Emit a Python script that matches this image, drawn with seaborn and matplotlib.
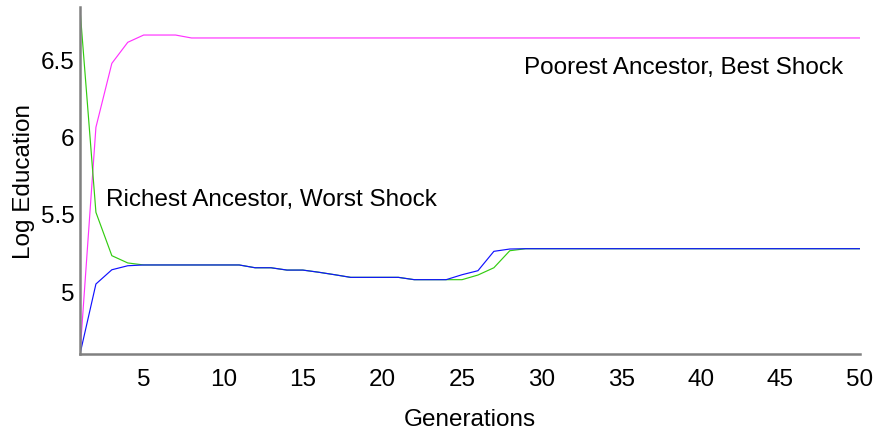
import matplotlib
matplotlib.use("Agg")
import matplotlib.pyplot as plt
import pandas as pd
import seaborn as sns

# Log education paths across generations
generations = list(range(1, 51))

poorest_best = [4.595, 6.059, 6.472, 6.608, 6.655, 6.655, 6.655, 6.636, 6.636, 6.636,
                6.636, 6.636, 6.636, 6.636, 6.636, 6.636, 6.636, 6.636, 6.636, 6.636,
                6.636, 6.636, 6.636, 6.636, 6.636, 6.636, 6.636, 6.636, 6.636, 6.636,
                6.636, 6.636, 6.636, 6.636, 6.636, 6.636, 6.636, 6.636, 6.636, 6.636,
                6.636, 6.636, 6.636, 6.636, 6.636, 6.636, 6.636, 6.636, 6.636, 6.636]

richest_worst = [6.823, 5.510, 5.230, 5.183, 5.170, 5.170, 5.170, 5.170, 5.170, 5.170,
                 5.170, 5.152, 5.152, 5.137, 5.137, 5.123, 5.107, 5.090, 5.090, 5.090,
                 5.090, 5.075, 5.075, 5.075, 5.075, 5.105, 5.152, 5.262, 5.275, 5.275,
                 5.275, 5.275, 5.275, 5.275, 5.275, 5.275, 5.275, 5.275, 5.275, 5.275,
                 5.275, 5.275, 5.275, 5.275, 5.275, 5.275, 5.275, 5.275, 5.275, 5.275]

poorest_path = [4.595, 5.047, 5.139, 5.165, 5.170, 5.170, 5.170, 5.170, 5.170, 5.170,
                5.170, 5.152, 5.152, 5.137, 5.137, 5.123, 5.107, 5.090, 5.090, 5.090,
                5.090, 5.075, 5.075, 5.075, 5.107, 5.133, 5.258, 5.273, 5.275, 5.275,
                5.275, 5.275, 5.275, 5.275, 5.275, 5.275, 5.275, 5.275, 5.275, 5.275,
                5.275, 5.275, 5.275, 5.275, 5.275, 5.275, 5.275, 5.275, 5.275, 5.275]

y_ticks = [5, 5.5, 6, 6.5]
y_tick_labels = ["5", "5.5", "6", "6.5"]
x_ticks = [5, 10, 15, 20, 25, 30, 35, 40, 45, 50]

series = [
    ("Poorest Ancestor, Best Shock", poorest_best, "#ff33ff"),
    ("Richest Ancestor, Worst Shock", richest_worst, "#33cc11"),
    ("Baseline", poorest_path, "#1111ff"),
]

frames = []
for name, vals, _ in series:
    frames.append(pd.DataFrame({"Generations": generations, "LogEdu": vals, "path": name}))
df = pd.concat(frames, ignore_index=True)

sns.set_theme(style="white")
plt.rcParams["font.family"] = ["Liberation Sans", "DejaVu Sans"]
plt.rcParams["text.color"] = "black"
plt.rcParams["axes.labelcolor"] = "black"

fig = plt.figure(figsize=(8.78, 4.39), dpi=100)
ax = fig.add_axes([80 / 878, 1 - 355 / 439, (860 - 80) / 878, (355 - 8) / 439])

sns.lineplot(data=df, x="Generations", y="LogEdu", hue="path",
             palette={n: c for n, _, c in series}, hue_order=[n for n, _, _ in series],
             linewidth=0.85, legend=False, ax=ax)

ax.set_xlim(1, 50)
ax.set_ylim(4.595, 6.836)
ax.set_xticks(x_ticks)
ax.set_xticklabels([str(t) for t in x_ticks])
ax.set_yticks(y_ticks)
ax.set_yticklabels(y_tick_labels)
ax.tick_params(direction="in", length=6, width=1, colors="black", labelsize=17.5)
ax.tick_params(axis="x", pad=10)
ax.tick_params(axis="y", pad=4)

for side in ("top", "right"):
    ax.spines[side].set_visible(False)
for side in ("left", "bottom"):
    ax.spines[side].set_color("#808080")
    ax.spines[side].set_linewidth(1.8)

ax.set_xlabel("Generations", fontsize=17.5, labelpad=13)
ax.set_ylabel("Log Education", fontsize=17.5, labelpad=4)

ax.text(28.9, 6.448, "Poorest Ancestor, Best Shock", fontsize=17.5, va="center", ha="left")
ax.text(2.65, 5.596, "Richest Ancestor, Worst Shock", fontsize=17.5, va="center", ha="left")

fig.savefig("out.png", dpi=100)
